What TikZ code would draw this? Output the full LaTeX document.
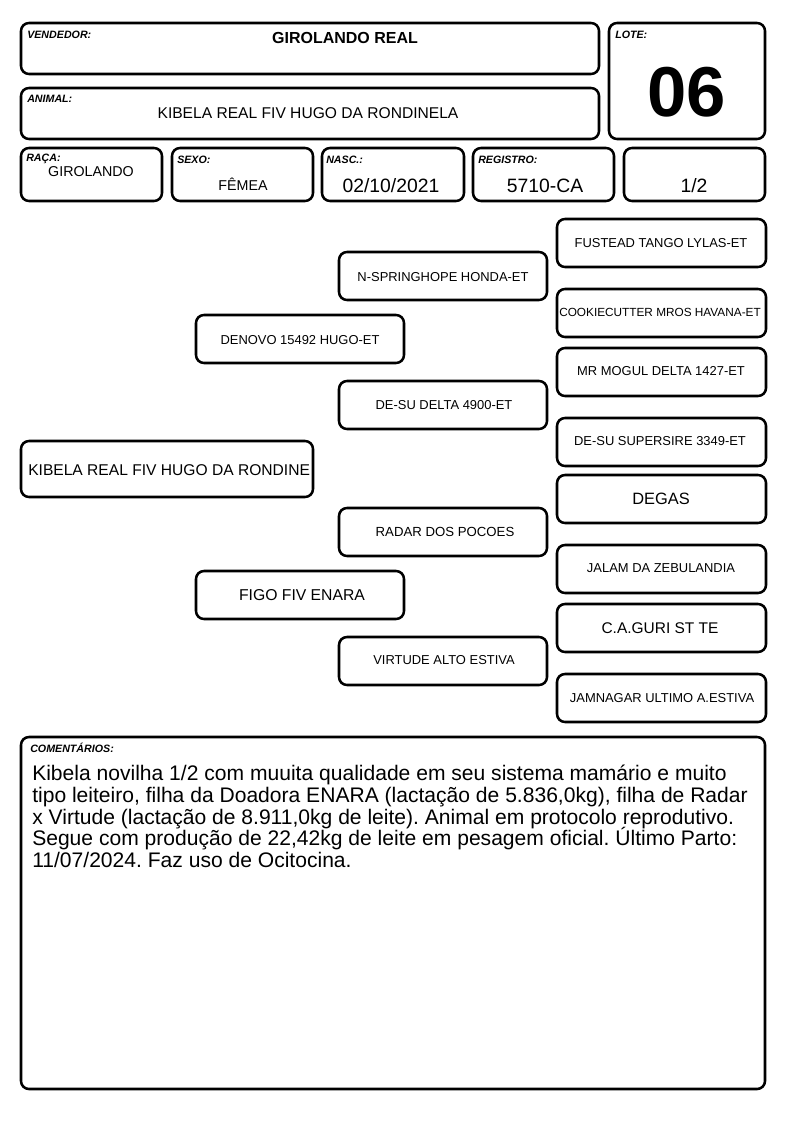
\documentclass[tikz,border=0pt]{standalone}
\usepackage{fontspec}
\setmainfont{Liberation Sans}
\usetikzlibrary{fit}
\newcommand\mytightlines{\lineskiplimit=-100pt\relax\lineskip=0pt\relax}
\begin{document}
\begin{tikzpicture}[x=0.75pt,y=-0.75pt,
  box/.style={draw, line width=1.9pt, rounded corners=6pt, inner sep=0pt},
  lbl/.style={anchor=west, inner sep=0pt, font=\fontsize{8pt}{9pt}\selectfont\bfseries\itshape},
  val/.style={inner sep=0pt},
  ped/.style={inner sep=0pt, font=\fontsize{9.7pt}{11pt}\selectfont},
  pedl/.style={inner sep=0pt, font=\fontsize{11.8pt}{13pt}\selectfont}]
\useasboundingbox (0,0) rectangle (794,1123);
% header boxes
\node[box, fit={(21,23) (599,74)}] (vend) {};
\node[box, fit={(21,88) (599,139)}] (anim) {};
\node[box, fit={(609,23) (765,139)}] (lote) {};
\node[box, fit={(21,148) (162,201)}] (raca) {};
\node[box, fit={(172,148) (313,201)}] (sexo) {};
\node[box, fit={(322,148) (464,201)}] (nasc) {};
\node[box, fit={(473,148) (614,201)}] (reg) {};
\node[box, fit={(624,148) (765,201)}] (frac) {};
% header texts
\node[lbl] (lv) at (27,35) {VENDEDOR:};
\node[val, font=\fontsize{12pt}{14pt}\selectfont\bfseries] (tv) at (345,38) {GIROLANDO REAL};
\node[lbl] (la) at (27,99) {ANIMAL:};
\node[val, font=\fontsize{11.7pt}{14pt}\selectfont] (ta) at (308,113) {KIBELA REAL FIV HUGO DA RONDINELA};
\node[lbl] (ll) at (615,35) {LOTE:};
\node[val, font=\fontsize{53pt}{60pt}\selectfont\bfseries] (tl) at (687,92) {06};
\node[lbl] (lr) at (26,159) {RAÇA:};
\node[val, font=\fontsize{10.7pt}{12pt}\selectfont] (tr) at (91,172) {GIROLANDO};
\node[lbl] (ls) at (177,160) {SEXO:};
\node[val, font=\fontsize{10.7pt}{12pt}\selectfont] (ts) at (243,184) {FÊMEA};
\node[lbl] (ln) at (326,160) {NASC.:};
\node[val, font=\fontsize{14.5pt}{16pt}\selectfont] (tn) at (391,186) {02/10/2021};
\node[lbl] (lg) at (478,160) {REGISTRO:};
\node[val, font=\fontsize{14.5pt}{16pt}\selectfont] (tg) at (545,186) {5710-CA};
\node[val, font=\fontsize{14.5pt}{16pt}\selectfont] (tf) at (694,186) {1/2};
% pedigree boxes
\node[box, fit={(21,441) (313,497)}] (p0) {};
\node[box, fit={(196,315) (404,363)}] (p1) {};
\node[box, fit={(196,571) (404,619)}] (p2) {};
\node[box, fit={(339,252) (547,300)}] (p11) {};
\node[box, fit={(339,381) (547,429)}] (p12) {};
\node[box, fit={(339,508) (547,556)}] (p21) {};
\node[box, fit={(339,637) (547,685)}] (p22) {};
\node[box, fit={(557,219) (766,267)}] (p111) {};
\node[box, fit={(557,289) (766,337)}] (p112) {};
\node[box, fit={(557,348) (766,396)}] (p121) {};
\node[box, fit={(557,418) (766,466)}] (p122) {};
\node[box, fit={(557,475) (766,523)}] (p211) {};
\node[box, fit={(557,545) (766,593)}] (p212) {};
\node[box, fit={(557,604) (766,652)}] (p221) {};
\node[box, fit={(557,674) (766,722)}] (p222) {};
% pedigree texts
\node[val, anchor=west, font=\fontsize{11.7pt}{14pt}\selectfont] (t0) at (28,470) {KIBELA REAL FIV HUGO DA RONDINE};
\node[ped] (t1) at (300,340) {DENOVO 15492 HUGO-ET};
\node[pedl] (t2) at (302,595) {FIGO FIV ENARA};
\node[ped] (t11) at (443,277) {N-SPRINGHOPE HONDA-ET};
\node[ped] (t12) at (444,405) {DE-SU DELTA 4900-ET};
\node[ped, font=\fontsize{9.9pt}{11pt}\selectfont] (t21) at (445,532) {RADAR DOS POCOES};
\node[ped] (t22) at (444,660) {VIRTUDE ALTO ESTIVA};
\node[ped] (t111) at (661,243) {FUSTEAD TANGO LYLAS-ET};
\node[ped, font=\fontsize{8.85pt}{10pt}\selectfont] (t112) at (660,312) {COOKIECUTTER MROS HAVANA-ET};
\node[ped] (t121) at (661,371) {MR MOGUL DELTA 1427-ET};
\node[ped] (t122) at (660,441) {DE-SU SUPERSIRE 3349-ET};
\node[pedl, font=\fontsize{12.3pt}{14pt}\selectfont] (t211) at (661,499) {DEGAS};
\node[ped] (t212) at (661,568) {JALAM DA ZEBULANDIA};
\node[pedl, font=\fontsize{11.6pt}{13pt}\selectfont] (t221) at (660,628) {C.A.GURI ST TE};
\node[ped] (t222) at (662,698) {JAMNAGAR ULTIMO A.ESTIVA};
% comments
\node[box, fit={(21,737) (765,1089)}] (com) {};
\node[lbl] (lc) at (30,748) {COMENTÁRIOS:};
\node[anchor=north west, inner sep=0pt, align=left, font=\fontsize{15.8pt}{16.3pt}\selectfont\frenchspacing\mytightlines] (tc) at (32,765) {Kibela novilha 1/2 com muuita qualidade em seu sistema mamário e muito\\tipo leiteiro, filha da Doadora ENARA (lactação de 5.836,0kg), filha de Radar\\x Virtude (lactação de 8.911,0kg de leite). Animal em protocolo reprodutivo.\\Segue com produção de 22,42kg de leite em pesagem oficial. Último Parto:\\11/07/2024. Faz uso de Ocitocina.};
\end{tikzpicture}
\end{document}
